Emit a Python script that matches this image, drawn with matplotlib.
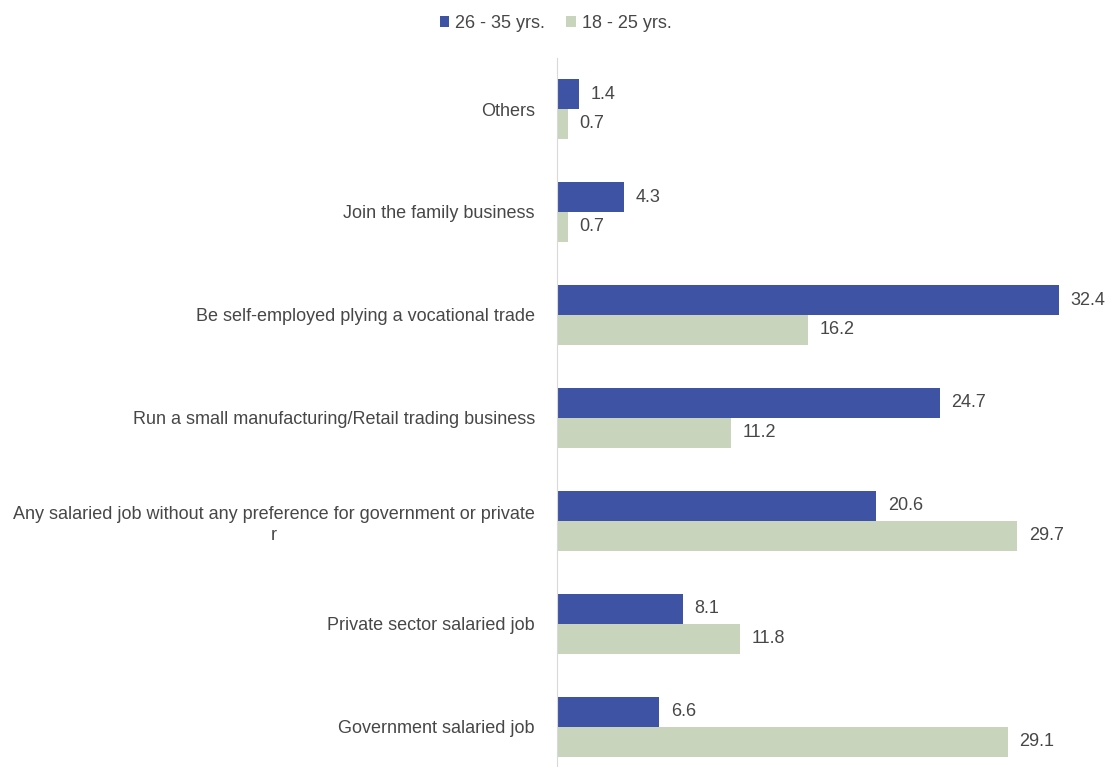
import numpy as np
import matplotlib.pyplot as plt

plt.rcParams['font.family'] = ['Liberation Sans', 'DejaVu Sans']

categories = [
    'Government salaried job',
    'Private sector salaried job',
    'Any salaried job without any preference for government or private\nr',
    'Run a small manufacturing/Retail trading business',
    'Be self-employed plying a vocational trade',
    'Join the family business',
    'Others',
]
age_26_35 = [6.6, 8.1, 20.6, 24.7, 32.4, 4.3, 1.4]
age_18_25 = [29.1, 11.8, 29.7, 11.2, 16.2, 0.7, 0.7]

blue = '#3F53A5'
green = '#C9D4BD'
text_col = '#474747'

fig = plt.figure(figsize=(11.11, 7.67), dpi=100)
ax = fig.add_axes([0.5014, 0.0, 0.488, 0.925])

y = np.arange(len(categories))
h = 0.29
b1 = ax.barh(y + h / 2, age_26_35, height=h, color=blue, label='26 - 35 yrs.')
b2 = ax.barh(y - h / 2, age_18_25, height=h, color=green, label='18 - 25 yrs.')

for bars, vals in ((b1, age_26_35), (b2, age_18_25)):
    for bar, v in zip(bars, vals):
        ax.text(v + 0.75, bar.get_y() + bar.get_height() / 2, f'{v:.1f}',
                va='center', ha='left', fontsize=13, color=text_col)

ax.set_xlim(0, 35)
ax.set_ylim(-0.39, 6.5)
ax.set_yticks(y)
ax.set_yticklabels(categories, fontsize=13, color=text_col,
                   multialignment='center', linespacing=1.35)
ax.tick_params(axis='y', length=0, pad=16)
ax.set_xticks([])
for s in ('top', 'right', 'bottom'):
    ax.spines[s].set_visible(False)
ax.spines['left'].set_color('#D9D9D9')

fig.legend(handles=[b1, b2], loc='center', bbox_to_anchor=(0.5, 0.970), ncol=2,
           frameon=False, fontsize=13, labelcolor=text_col,
           handlelength=0.55, handleheight=0.55, handletextpad=0.3, columnspacing=1.2)

fig.savefig('out.png', dpi=100)
